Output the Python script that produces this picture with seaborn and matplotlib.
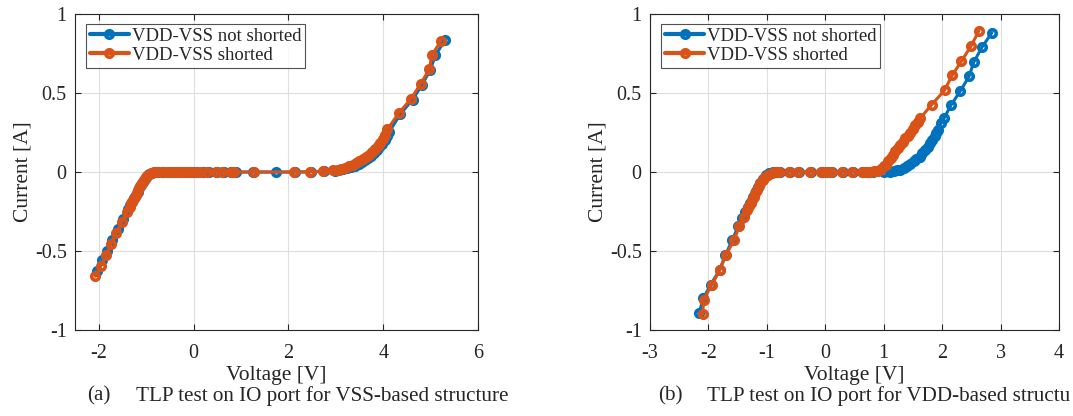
"""
plot.py
=======
TLP I-V curves for the IO port, VSS-based (a) and VDD-based (b) structures.
"""

import numpy as np
import pandas as pd
import matplotlib
matplotlib.use("Agg")
import matplotlib.pyplot as plt
from matplotlib.ticker import FuncFormatter
import seaborn as sns

# ── Data: (a) VSS-based structure ──────────────────────────────────────────
V_a_ns = [-2.03, -1.93, -1.82, -1.71, -1.60, -1.48, -1.38, -1.33, -1.29, -1.25,
          -1.22, -1.18, -1.14, -1.10, -1.06, -1.02, -0.98, -0.93, -0.88, -0.82,
          -0.75, -0.64, -0.54, -0.45, -0.36, -0.28, -0.19, -0.10, -0.02, 0.08,
          0.20, 0.33, 0.50, 0.65, 0.80, 0.90, 1.25, 1.73, 2.14, 2.48, 2.76,
          2.98, 3.07, 3.16, 3.24, 3.32, 3.40, 3.48, 3.55, 3.62, 3.69, 3.75,
          3.81, 3.87, 3.92, 3.98, 4.03, 4.08, 4.13, 4.36, 4.62, 4.82, 4.99,
          5.10, 5.31]
I_a_ns = [-0.625, -0.560, -0.498, -0.430, -0.362, -0.298, -0.236, -0.210, -0.187,
          -0.166, -0.146, -0.125, -0.104, -0.083, -0.064, -0.045, -0.028, -0.013,
          -0.004, -0.001, 0.0, 0.0, 0.0, 0.0, 0.0, 0.0, 0.0, 0.0, 0.0, 0.0,
          0.0, 0.0, 0.0, 0.0, 0.0, 0.0, 0.0, 0.0, 0.0, 0.002, 0.005,
          0.008, 0.012, 0.017, 0.023, 0.031, 0.040, 0.051, 0.062, 0.075, 0.090,
          0.104, 0.120, 0.138, 0.156, 0.178, 0.200, 0.225, 0.255, 0.366, 0.458,
          0.552, 0.645, 0.738, 0.838]
V_a_s = [-2.07, -1.95, -1.84, -1.74, -1.63, -1.51, -1.40, -1.35, -1.31, -1.27,
         -1.24, -1.20, -1.17, -1.12, -1.08, -1.04, -1.00, -0.95, -0.90, -0.84,
         -0.77, -0.67, -0.56, -0.47, -0.39, -0.30, -0.22, -0.13, -0.05, 0.05,
         0.15, 0.29, 0.47, 0.61, 0.78, 0.86, 1.27, 2.11, 2.46, 2.73, 2.95,
         3.04, 3.12, 3.20, 3.28, 3.36, 3.43, 3.50, 3.57, 3.64, 3.70, 3.76,
         3.83, 3.88, 3.94, 3.99, 4.04, 4.09, 4.33, 4.59, 4.79, 4.97, 5.03,
         5.22]
I_a_s = [-0.660, -0.592, -0.525, -0.455, -0.385, -0.315, -0.250, -0.222, -0.197,
         -0.175, -0.155, -0.133, -0.112, -0.090, -0.070, -0.050, -0.032, -0.016,
         -0.006, -0.002, 0.0, 0.0, 0.0, 0.0, 0.0, 0.0, 0.0, 0.0, 0.0, 0.0,
         0.0, 0.0, 0.0, 0.0, 0.0, 0.0, 0.0, 0.0, 0.0, 0.004, 0.010,
         0.015, 0.020, 0.027, 0.036, 0.046, 0.056, 0.068, 0.080, 0.096, 0.110,
         0.127, 0.148, 0.165, 0.186, 0.210, 0.235, 0.270, 0.374, 0.464, 0.559,
         0.649, 0.742, 0.830]

# ── Data: (b) VDD-based structure ──────────────────────────────────────────
V_b_ns = [-2.16, -2.09, -1.96, -1.81, -1.71, -1.59, -1.49, -1.42, -1.37, -1.33,
          -1.29, -1.24, -1.19, -1.15, -1.11, -1.06, -1.01, -0.96, -0.90, -0.84,
          -0.78, -0.61, -0.45, -0.25, -0.05, 0.03, 0.12, 0.31, 0.48, 0.65,
          0.72, 0.81, 1.00, 1.10, 1.17, 1.23, 1.28, 1.34, 1.40, 1.45, 1.51,
          1.56, 1.62, 1.66, 1.70, 1.75, 1.79, 1.83, 1.87, 1.90, 1.93, 1.98,
          2.03, 2.15, 2.31, 2.46, 2.54, 2.68, 2.85]
I_b_ns = [-0.893, -0.800, -0.712, -0.620, -0.525, -0.430, -0.341, -0.290, -0.250,
          -0.222, -0.196, -0.160, -0.122, -0.093, -0.068, -0.042, -0.022, -0.009,
          -0.003, 0.0, 0.0, 0.0, 0.0, 0.0, 0.0, 0.0, 0.0, 0.0, 0.0, 0.0,
          0.0, 0.0, 0.0, 0.002, 0.004, 0.010, 0.015, 0.025, 0.036, 0.050, 0.067,
          0.080, 0.098, 0.118, 0.140, 0.160, 0.182, 0.205, 0.228, 0.247, 0.266,
          0.310, 0.339, 0.423, 0.513, 0.605, 0.695, 0.789, 0.882]
V_b_s = [-2.10, -2.08, -1.94, -1.80, -1.70, -1.56, -1.47, -1.39, -1.34, -1.31,
         -1.28, -1.25, -1.22, -1.20, -1.17, -1.14, -1.11, -1.07, -1.03, -0.98,
         -0.92, -0.86, -0.80, -0.63, -0.47, -0.27, -0.07, 0.01, 0.10, 0.29,
         0.46, 0.63, 0.70, 0.77, 0.84, 0.90, 0.95, 1.00, 1.03, 1.08, 1.12,
         1.16, 1.20, 1.24, 1.28, 1.33, 1.37, 1.41, 1.45, 1.50, 1.54, 1.58,
         1.62, 1.82, 2.04, 2.17, 2.33, 2.49, 2.63]
I_b_s = [-0.900, -0.807, -0.712, -0.617, -0.525, -0.430, -0.341, -0.286, -0.239,
         -0.218, -0.197, -0.176, -0.155, -0.133, -0.112, -0.090, -0.070, -0.050,
         -0.032, -0.018, -0.006, -0.002, 0.0, 0.0, 0.0, 0.0, 0.0, 0.0, 0.0,
         0.0, 0.0, 0.0, 0.0, 0.0, 0.004, 0.008, 0.019, 0.035, 0.046, 0.068,
         0.088, 0.108, 0.130, 0.150, 0.170, 0.192, 0.213, 0.231, 0.249, 0.273,
         0.297, 0.318, 0.339, 0.426, 0.517, 0.612, 0.702, 0.795, 0.895]

SERIES = ["VDD-VSS not shorted", "VDD-VSS shorted"]
COLORS = {"VDD-VSS not shorted": "#0072BD", "VDD-VSS shorted": "#D95319"}
TXT = "#262626"

# ── Style ──────────────────────────────────────────────────────────────────
sns.set_theme(style="whitegrid")
plt.rcParams["font.family"] = ["Liberation Serif", "DejaVu Serif"]
plt.rcParams["axes.unicode_minus"] = False


def make_df(v_ns, i_ns, v_s, i_s):
    a = pd.DataFrame({"V": v_ns, "I": i_ns, "case": SERIES[0]})
    b = pd.DataFrame({"V": v_s, "I": i_s, "case": SERIES[1]})
    return pd.concat([a, b], ignore_index=True)


def draw(ax, df, xlim, xticks):
    sns.lineplot(data=df, x="V", y="I", hue="case", palette=COLORS,
                 sort=False, estimator=None, legend=False, ax=ax,
                 marker="o", markersize=5.4, markerfacecolor="none",
                 markeredgewidth=2.6, linewidth=2.2)
    for ln, c in zip(ax.lines, SERIES):
        ln.set_markeredgecolor(COLORS[c])
    ax.set_xlim(*xlim)
    ax.set_ylim(-1, 1)
    ax.set_xticks(xticks)
    ax.set_yticks([-1, -0.5, 0, 0.5, 1])
    fmt = FuncFormatter(lambda v, p: f"{v:g}")
    ax.xaxis.set_major_formatter(fmt)
    ax.yaxis.set_major_formatter(fmt)
    ax.set_facecolor("white")
    ax.grid(True, color="#dedede", linewidth=0.8)
    for s in ax.spines.values():
        s.set_visible(True)
        s.set_color(TXT)
        s.set_linewidth(0.8)
    ax.tick_params(direction="in", length=4, width=0.8, colors=TXT,
                   labelsize=14.5, top=True, right=True, bottom=True, left=True)
    ax.tick_params(axis="x", pad=10)
    ax.tick_params(axis="y", pad=6)
    ax.set_xlabel("Voltage [V]", fontsize=15.5, color=TXT, labelpad=2)
    ax.set_ylabel("Current [A]", fontsize=15.5, color=TXT, labelpad=1.5)
    leg = ax.legend(ax.lines[:2], SERIES, loc="upper left",
                    bbox_to_anchor=(0.027, 0.968), fontsize=13.5, frameon=True,
                    fancybox=False, borderaxespad=0, handlelength=2.1,
                    handletextpad=0.15, borderpad=0.2, labelspacing=0.1)
    leg.get_frame().set_edgecolor(TXT)
    leg.get_frame().set_linewidth(0.8)
    for t in leg.get_texts():
        t.set_color(TXT)
    for h in leg.legend_handles:
        h.set_linewidth(3.0)


fig = plt.figure(figsize=(10.73, 4.16), dpi=100, facecolor="white")
ax1 = fig.add_axes([0.0699, 0.2067, 0.3756, 0.7596])
ax2 = fig.add_axes([0.6058, 0.2067, 0.3812, 0.7596])

draw(ax1, make_df(V_a_ns, I_a_ns, V_a_s, I_a_s), (-2.5, 6), [-2, 0, 2, 4, 6])
draw(ax2, make_df(V_b_ns, I_b_ns, V_b_s, I_b_s), (-3, 4), [-3, -2, -1, 0, 1, 2, 3, 4])

# captions (the (b) caption runs to the right edge in the source figure)
cy = 1 - 396 / 416
fig.text(87 / 1073, cy, "(a)", fontsize=15.2, color=TXT, va="center")
fig.text(136 / 1073, cy, "TLP test on IO port for VSS-based structure",
         fontsize=15.2, color=TXT, va="center")
fig.text(658 / 1073, cy, "(b)", fontsize=15.2, color=TXT, va="center")
fig.text(707 / 1073, cy, "TLP test on IO port for VDD-based structu",
         fontsize=15.2, color=TXT, va="center")

fig.savefig("out.png", dpi=100, facecolor="white")
